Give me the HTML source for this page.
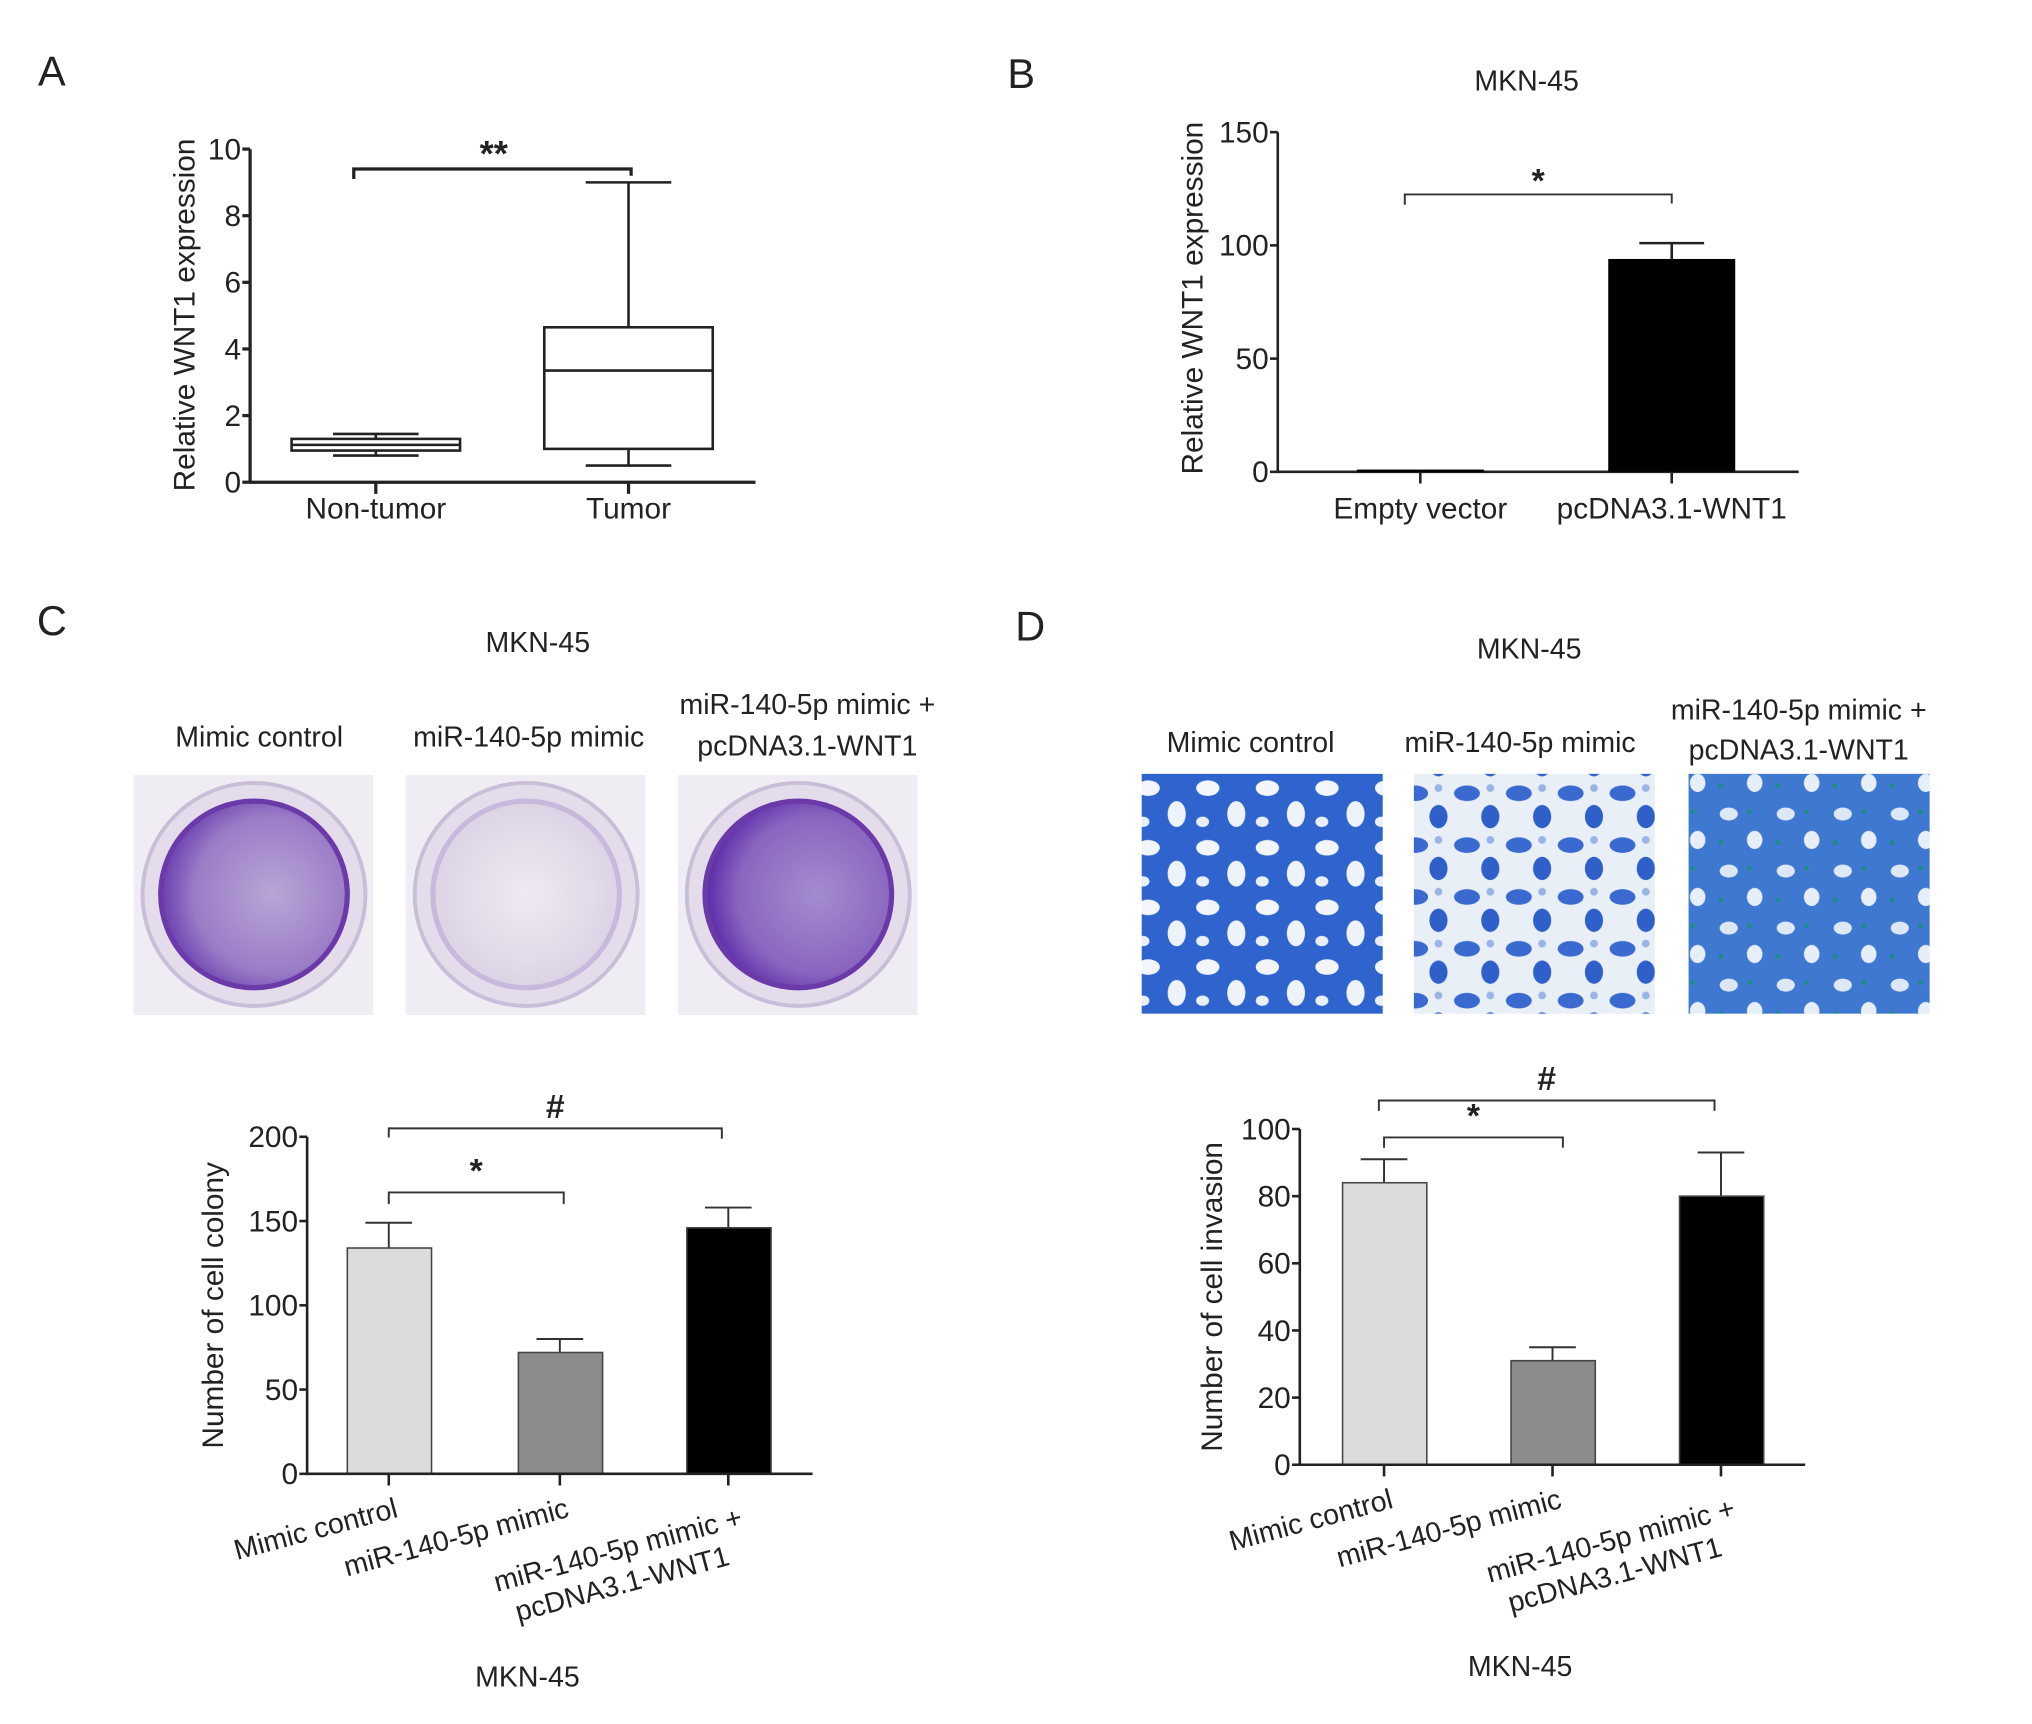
<!DOCTYPE html>
<html><head><meta charset="utf-8">
<style>
html,body{margin:0;padding:0;background:#fff;}
svg{display:block;font-family:"Liberation Sans",Arial,sans-serif;}
text{fill:#222;}
</style></head>
<body>
<svg id="fig" xmlns="http://www.w3.org/2000/svg" width="2032" height="1724" viewBox="0 0 1568 1330" preserveAspectRatio="none">
<defs>
<radialGradient id="wellA" cx="0.6" cy="0.5" r="0.6"><stop offset="0" stop-color="#b9a6d6"/><stop offset="0.7" stop-color="#9a7cc6"/><stop offset="1" stop-color="#6a3fb0"/></radialGradient>
<radialGradient id="wellB" cx="0.5" cy="0.5" r="0.6"><stop offset="0" stop-color="#efeaf2"/><stop offset="1" stop-color="#d8cfe2"/></radialGradient>
<radialGradient id="wellC" cx="0.6" cy="0.5" r="0.6"><stop offset="0" stop-color="#a48cce"/><stop offset="0.7" stop-color="#8a66c0"/><stop offset="1" stop-color="#5a2aa8"/></radialGradient>
<pattern id="cellsA" width="46" height="46" patternUnits="userSpaceOnUse"><rect width="46" height="46" fill="#2f64cf"/><ellipse cx="12" cy="10" rx="9" ry="6" fill="#f2f6fb"/><ellipse cx="34" cy="30" rx="7" ry="10" fill="#eef3fa"/><ellipse cx="8" cy="36" rx="5" ry="4" fill="#e8eff8"/></pattern>
<pattern id="cellsB" width="40" height="40" patternUnits="userSpaceOnUse"><rect width="40" height="40" fill="#e9eff7"/><ellipse cx="12" cy="12" rx="10" ry="6" fill="#3a6ad0"/><ellipse cx="30" cy="30" rx="7" ry="9" fill="#2f5fc8"/><circle cx="30" cy="8" r="3" fill="#9ab4e4"/></pattern>
<pattern id="cellsC" width="44" height="44" patternUnits="userSpaceOnUse"><rect width="44" height="44" fill="#3f78d0"/><ellipse cx="14" cy="12" rx="7" ry="5" fill="#dde8f6"/><ellipse cx="34" cy="32" rx="6" ry="7" fill="#e6eef8"/><circle cx="30" cy="10" r="2" fill="#1f8a8a"/><circle cx="8" cy="34" r="2" fill="#1f8a8a"/></pattern>
</defs>
<g id="root"></g>
</svg>
<script>
// Panel A data (box plot)
const aCategories = ["Non-tumor","Tumor"];
const aMin = [0.8, 0.5];
const aQ1 = [0.95, 1.0];
const aMedian = [1.12, 3.35];
const aQ3 = [1.3, 4.65];
const aMax = [1.45, 9.0];
const aTicks = [0,2,4,6,8,10];
// Panel B data
const bCategories = ["Empty vector","pcDNA3.1-WNT1"];
const bValues = [1.0, 94];
const bErrors = [0, 7];
const bTicks = [0,50,100,150];
// Panel C data
const cCategories = [["Mimic control"],["miR-140-5p mimic"],["miR-140-5p mimic +","pcDNA3.1-WNT1"]];
const cValues = [134, 72, 146];
const cErrors = [15, 8, 12];
const cTicks = [0,50,100,150,200];
// Panel D data
const dValues = [84, 31, 80];
const dErrors = [7, 4, 13];
const dTicks = [0,20,40,60,80,100];

const NS="http://www.w3.org/2000/svg";
const root=document.getElementById('root');
function el(tag,attrs,parent){const e=document.createElementNS(NS,tag);for(const k in attrs)e.setAttribute(k,attrs[k]);(parent||root).appendChild(e);return e;}
function txt(s,x,y,size,anchor,parent){const t=el('text',{x:x,y:y,'font-size':size,'text-anchor':anchor||'middle'},parent);t.textContent=s;return t;}

function axes(g,x0,x1,yTop,yBot,ticks,yScale,sw){
  const ya=el('line',{x1:x0,y1:yTop,x2:x0,y2:yBot+1,stroke:'#222','stroke-width':sw},g);
  
  
  const xa=el('line',{x1:x0,y1:yBot,x2:x1,y2:yBot,stroke:'#222','stroke-width':sw},g);
  
  
  ticks.forEach(v=>{const y=yScale(v);
    el('line',{x1:x0-6,y1:y,x2:x0,y2:y,stroke:'#222','stroke-width':sw},g);
    const t=txt(String(v),x0-7,y+8,23,'end',g);
    
    
  });
}
function bracket(g,xa,xb,y,da,db,label,ly){
  el('path',{d:`M${xa},${y+da}V${y}H${xb}V${y+db}`,fill:'none',stroke:'#333','stroke-width':1.5},g);
  const t=txt(label,(xa+xb)/2,ly,26,'middle',g);t.setAttribute('font-weight','bold');
  
  
}
function rotLabel(g,s,x,y){const t=txt(s,x,y,22,'end',g);t.setAttribute('transform',`rotate(-15 ${x} ${y})`);return t;}

// Panel labels
[["A",40,66],["B",788,68],["C",40,490],["D",795,494]].forEach(p=>{const t=txt(p[0],p[1],p[2],32,'middle');
  
  });

// ---------- Panel A ----------
{
const g=el('g',{});


const y=v=>372-25.7*v;
const cx=[290,485];
axes(g,193,583,115,372,aTicks,y,2.5);
cx.forEach((x,i)=>{el('line',{x1:x,y1:372,x2:x,y2:381,stroke:'#222','stroke-width':2.5},g);
  const t=txt(aCategories[i],x,400,23,'middle',g);
  
  
  const b=el('g',{},g);
  
  
  el('line',{x1:x,y1:y(aMax[i]),x2:x,y2:y(aMin[i]),stroke:'#222','stroke-width':2},b);
  el('line',{x1:x-33,y1:y(aMax[i]),x2:x+33,y2:y(aMax[i]),stroke:'#222','stroke-width':2},b);
  el('line',{x1:x-33,y1:y(aMin[i]),x2:x+33,y2:y(aMin[i]),stroke:'#222','stroke-width':2},b);
  el('rect',{x:x-65,y:y(aQ3[i]),width:130,height:y(aQ1[i])-y(aQ3[i]),fill:'#fff',stroke:'#222','stroke-width':2},b);
  el('line',{x1:x-65,y1:y(aMedian[i]),x2:x+65,y2:y(aMedian[i]),stroke:'#222','stroke-width':2},b);
});
el('path',{d:`M273,${y(9.1)}V${y(9.4)}H487V${y(9.2)}`,fill:'none',stroke:'#222','stroke-width':2.5},g);
const s=txt('**',381,128,28,'middle',g);s.setAttribute('font-weight','bold');


const yt=txt('Relative WNT1 expression',0,0,23,'middle',g);yt.setAttribute('transform','translate(150,243) rotate(-90)');


}

// ---------- Panel B ----------
{
const g=el('g',{});


const y=v=>364-1.747*v;
const cx=[1096,1290];
const ti=txt('MKN-45',1178,70,22,'middle',g);


axes(g,986,1388,102,364,bTicks,y,2);
cx.forEach((x,i)=>{
  const r=el('rect',{x:x-49,y:y(bValues[i]),width:98,height:Math.max(364-y(bValues[i]),2),fill:'#000'},g);
  
  
  if(bErrors[i]>0){el('line',{x1:x,y1:y(bValues[i]),x2:x,y2:y(bValues[i]+bErrors[i]),stroke:'#222','stroke-width':2},g);
    el('line',{x1:x-25,y1:y(bValues[i]+bErrors[i]),x2:x+25,y2:y(bValues[i]+bErrors[i]),stroke:'#222','stroke-width':2},g);}
  el('line',{x1:x,y1:364,x2:x,y2:373,stroke:'#222','stroke-width':2},g);
  const t=txt(bCategories[i],x,400,23,'middle',g);
  
  
});
bracket(g,1084,1290,150,8,7,'*',148);
const yt=txt('Relative WNT1 expression',0,0,23,'middle',g);yt.setAttribute('transform','translate(928,230) rotate(-90)');


}

// ---------- Panel C images ----------
{
const g=el('g',{});


txt('MKN-45',415,503,22,'middle',g);
txt('Mimic control',200,576,22,'middle',g);
txt('miR-140-5p mimic',408,576,22,'middle',g);
txt('miR-140-5p mimic +',623,551,22,'middle',g);
txt('pcDNA3.1-WNT1',623,583,22,'middle',g);
const xs=[103,313,523], fills=['url(#wellA)','url(#wellB)','url(#wellC)'];
xs.forEach((x,i)=>{
  const w=el('g',{},g);
  
  
  el('rect',{x:x,y:598,width:185,height:185,fill:'#efedf3'},w);
  el('circle',{cx:x+93,cy:690,r:86,fill:'#e4dcea',stroke:'#c9bdd8','stroke-width':3},w);
  el('circle',{cx:x+93,cy:690,r:72,fill:fills[i],stroke:i===1?'#c7b8dc':'#6a3aa8','stroke-width':4},w);
});
}
// ---------- Panel D images ----------
{
const g=el('g',{});


txt('MKN-45',1180,508,22,'middle',g);
txt('Mimic control',965,580,22,'middle',g);
txt('miR-140-5p mimic',1173,580,22,'middle',g);
txt('miR-140-5p mimic +',1388,555,22,'middle',g);
txt('pcDNA3.1-WNT1',1388,586,22,'middle',g);
[[881,'url(#cellsA)'],[1091,'url(#cellsB)'],[1303,'url(#cellsC)']].forEach(p=>{
  const r=el('rect',{x:p[0],y:597,width:186,height:185,fill:p[1]},g);
  
  
});
}

// ---------- bar chart C / D ----------
function groupBars(name,x0,x1,yTop,yBot,maxV,ticks,values,errors,cx,title,titleX,brackets,bottomY,bottomX){
  const g=el('g',{});
  
  
  const k=(yBot-yTop)/maxV;const y=v=>yBot-k*v;
  const fills=['#dcdcdc','#8c8c8c','#000'];
  cx.forEach((x,i)=>{
    el('line',{x1:x,y1:y(values[i]),x2:x,y2:y(values[i]+errors[i]),stroke:'#333','stroke-width':1.5},g);
    el('line',{x1:x-18,y1:y(values[i]+errors[i]),x2:x+18,y2:y(values[i]+errors[i]),stroke:'#333','stroke-width':1.5},g);
    const r=el('rect',{x:x-32,y:y(values[i]),width:65,height:yBot-y(values[i]),fill:fills[i],stroke:'#444','stroke-width':1.2},g);
    
    
    el('line',{x1:x,y1:yBot,x2:x,y2:yBot+9,stroke:'#222','stroke-width':2},g);
  });
  axes(g,x0,x1,yTop,yBot,ticks,y,2);
  brackets.forEach(b=>bracket(g,b[0],b[1],y(b[2]),b[3],b[4],b[5],y(b[2])-8));
  const l1=rotLabel(g,cCategories[0][0],cx[0]+8,yBot+33);
  
  
  const l2=rotLabel(g,cCategories[1][0],cx[1]+8,yBot+33);
  
  
  const l3=rotLabel(g,cCategories[2][0],cx[2]+12,yBot+40);
  
  
  const l4=rotLabel(g,cCategories[2][1],cx[2]+2,yBot+70);
  
  
  const yt=txt(title,0,0,23,'middle',g);yt.setAttribute('transform',`translate(${titleX},${(yTop+yBot)/2}) rotate(-90)`);
  
  
  const bt=txt('MKN-45',bottomX,bottomY,22,'middle',g);
  
  
}
groupBars('panel-c-bar-chart',237,627,877,1137,200,cTicks,cValues,cErrors,[300,432,562],'Number of cell colony',172,
  [[300,435,167,9,9,'*'],[300,557,205,7,8,'#']],1301,407);
groupBars('panel-d-bar-chart',1003,1393,871,1130,100,dTicks,dValues,dErrors,[1068,1198,1328],'Number of cell invasion',943,
  [[1068,1206,97.5,8,8,'*'],[1064,1323,108.5,8,8,'#']],1293,1173);
</script>
</body></html>
